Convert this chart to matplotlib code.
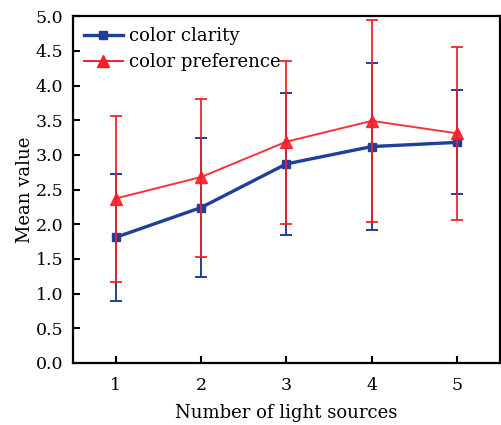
import matplotlib
matplotlib.use("Agg")
from matplotlib import pyplot as plt
from matplotlib.lines import Line2D

# number of light sources
sources = [1, 2, 3, 4, 5]

# color clarity: mean, lower and upper ends of the error bar
clarity_mean = [1.81, 2.24, 2.87, 3.12, 3.18]
clarity_low = [0.89, 1.24, 1.84, 1.92, 2.43]
clarity_high = [2.72, 3.25, 3.89, 4.33, 3.93]

# color preference
pref_mean = [2.37, 2.68, 3.19, 3.49, 3.31]
pref_low = [1.16, 1.53, 2.01, 2.03, 2.06]
pref_high = [3.56, 3.81, 4.35, 4.95, 4.55]

blue = "#1f3f9a"
red = "#f51e28"

plt.rcParams["font.family"] = ["DejaVu Serif"]

fig = plt.figure(figsize=(5.02, 4.25), dpi=100)
ax = fig.add_axes([0.145, 0.146, 0.851, 0.816])

c_err = [[m - lo for m, lo in zip(clarity_mean, clarity_low)],
         [hi - m for m, hi in zip(clarity_mean, clarity_high)]]
p_err = [[m - lo for m, lo in zip(pref_mean, pref_low)],
         [hi - m for m, hi in zip(pref_mean, pref_high)]]

ax.errorbar(sources, clarity_mean, yerr=c_err, color=blue, lw=2.4,
            marker="s", ms=6, elinewidth=1.4, capsize=4, capthick=1.4,
            zorder=3)
ax.errorbar(sources, pref_mean, yerr=p_err, color=red, lw=1.4,
            marker="^", ms=8, elinewidth=1.4, capsize=4, capthick=1.4,
            zorder=4, alpha=0.9)

ax.set_xlim(0.5, 5.5)
ax.set_ylim(0, 5)
ax.set_xticks(sources)
ax.set_yticks([0, 0.5, 1, 1.5, 2, 2.5, 3, 3.5, 4, 4.5, 5])
ax.set_yticklabels(["%.1f" % v for v in ax.get_yticks()])
ax.tick_params(direction="in", labelsize=12.5, width=1.5, length=5)
ax.tick_params(axis="x", pad=10)
ax.tick_params(axis="y", pad=7)
for s in ax.spines.values():
    s.set_linewidth(1.6)

ax.set_xlabel("Number of light sources", fontsize=13, labelpad=7)
ax.set_ylabel("Mean value", fontsize=13, labelpad=1)

handles = [
    Line2D([], [], color=blue, lw=2.4, marker="s", ms=6),
    Line2D([], [], color=red, lw=1.4, marker="^", ms=8),
]
ax.legend(handles, ["color clarity", "color preference"], loc="upper left",
          frameon=False, fontsize=13, handlelength=2.2, handletextpad=0.3,
          borderaxespad=0.2, labelspacing=0.45)

fig.savefig("out.png", dpi=100)
